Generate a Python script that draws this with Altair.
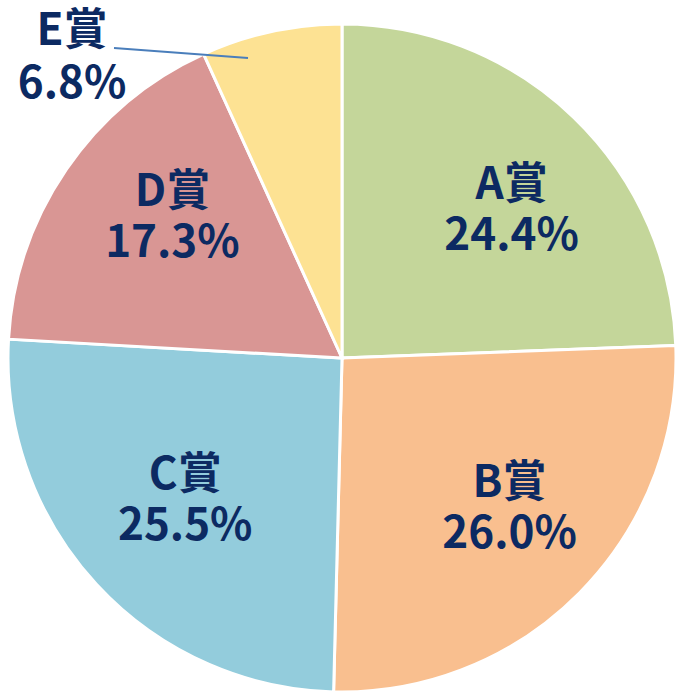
import altair as alt
import pandas as pd

categories = ["A賞", "B賞", "C賞", "D賞", "E賞"]
shares = [24.4, 26.0, 25.5, 17.3, 6.8]
colors = ["#C4D69A", "#F9BF8F", "#93CCDC", "#D99694", "#FDE293"]
labels = ["24.4%", "26.0%", "25.5%", "17.3%", "6.8%"]

df = pd.DataFrame({
    "cat": categories,
    "share": shares,
    "order": list(range(len(categories))),
    "label": [f"{c}\n{l}" for c, l in zip(categories, labels)],
})

FONT = "Noto Sans CJK JP"
NAVY = "#0C2A62"
FS = 44
theta_scale = alt.Scale(domain=[0, 100])

pie = alt.Chart(df).mark_arc(outerRadius=334, stroke="white", strokeWidth=3).encode(
    theta=alt.Theta("share:Q", stack=True, scale=theta_scale),
    order=alt.Order("order:Q"),
    color=alt.Color("cat:N", scale=alt.Scale(domain=categories, range=colors), legend=None),
)

text_base = alt.Chart(df).transform_window(
    cum="sum(share)", sort=[alt.SortField("order")], frame=[None, 0]
).transform_calculate(mid="datum.cum - datum.share / 2")

# per-label nudges (Excel-like label placement)
nudges = {"A賞": (17, -14), "B賞": (11, -29), "C賞": (5, -31), "D賞": (12, -41)}
text_layers = []
for cat, (ddx, ddy) in nudges.items():
    text_layers.append(
        text_base.transform_filter(alt.datum.cat == cat).mark_text(
            radius=220, dx=ddx, dy=ddy, font=FONT, fontSize=FS, fontWeight="bold",
            color=NAVY, lineBreak="\n", lineHeight=51, align="center", baseline="middle"
        ).encode(
            theta=alt.Theta("mid:Q", stack=None, scale=theta_scale),
            text="label:N",
        )
    )

e_df = df[df.cat == "E賞"]
e_text = alt.Chart(e_df).mark_text(
    font=FONT, fontSize=FS, fontWeight="bold", color=NAVY,
    lineBreak="\n", lineHeight=53, align="center", baseline="middle"
).encode(text="label:N", x=alt.value(63), y=alt.value(8))

leader = alt.Chart(e_df).mark_rule(color="#4A7EBB", strokeWidth=2).encode(
    x=alt.value(105), y=alt.value(24), x2=alt.value(239), y2=alt.value(34)
)

chart = alt.layer(pie, *text_layers, leader, e_text).properties(
    width=666, height=668,
    padding={"left": 9, "top": 24, "right": 0, "bottom": 0},
    autosize=alt.AutoSizeParams(type="none"),
    background="white",
).configure_view(stroke=None)

chart.save("out.html", embed_options={"renderer": "svg", "actions": False})
